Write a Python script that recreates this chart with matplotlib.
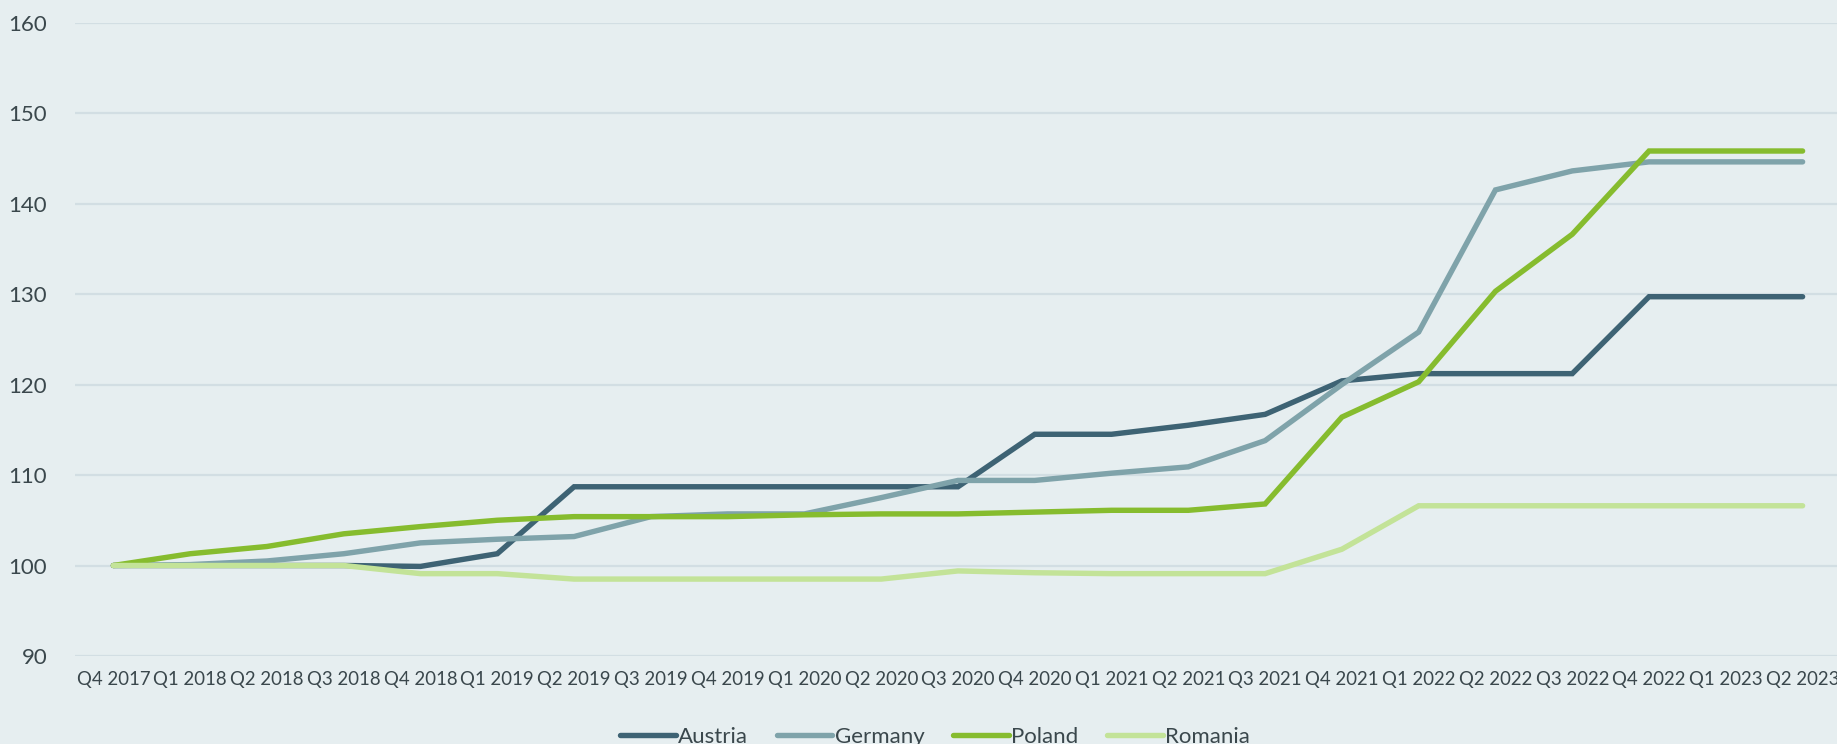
import matplotlib.pyplot as plt

quarters = ['Q4 2017', 'Q1 2018', 'Q2 2018', 'Q3 2018', 'Q4 2018', 'Q1 2019',
            'Q2 2019', 'Q3 2019', 'Q4 2019', 'Q1 2020', 'Q2 2020', 'Q3 2020',
            'Q4 2020', 'Q1 2021', 'Q2 2021', 'Q3 2021', 'Q4 2021', 'Q1 2022',
            'Q2 2022', 'Q3 2022', 'Q4 2022', 'Q1 2023', 'Q2 2023']

austria = [100, 100, 100, 100, 99.9, 101.3, 108.7, 108.7, 108.7, 108.7, 108.7, 108.7,
           114.5, 114.5, 115.5, 116.7, 120.4, 121.2, 121.2, 121.2, 129.7, 129.7, 129.7]
germany = [100, 100.1, 100.5, 101.3, 102.5, 102.9, 103.2, 105.4, 105.7, 105.7, 107.5, 109.4,
           109.4, 110.2, 110.9, 113.8, 120.0, 125.8, 141.5, 143.6, 144.6, 144.6, 144.6]
poland = [100, 101.3, 102.1, 103.5, 104.3, 105.0, 105.4, 105.4, 105.4, 105.6, 105.7, 105.7,
          105.9, 106.1, 106.1, 106.8, 116.4, 120.3, 130.3, 136.6, 145.8, 145.8, 145.8]
romania = [100, 100, 100, 100, 99.1, 99.1, 98.5, 98.5, 98.5, 98.5, 98.5, 99.4,
           99.2, 99.1, 99.1, 99.1, 101.8, 106.6, 106.6, 106.6, 106.6, 106.6, 106.6]

series = [('Austria', austria, '#3E6374'),
          ('Germany', germany, '#7FA3AA'),
          ('Poland', poland, '#86BC2E'),
          ('Romania', romania, '#C3E398')]

plt.rcParams['font.family'] = ['Lato', 'DejaVu Sans']
txt = '#3A474C'
bg = '#E6EEF0'

fig = plt.figure(figsize=(18.37, 7.44), dpi=100, facecolor=bg)
ax = fig.add_axes([75 / 1837, 1 - 656 / 744, 1766 / 1837, (656 - 22.5) / 744])
ax.set_facecolor(bg)

x = range(len(quarters))
for name, vals, col in series:
    ax.plot(x, vals, color=col, lw=3.9, label=name, solid_capstyle='round',
            solid_joinstyle='miter', zorder=3)

ax.set_xlim(-0.5, 22.5)
ax.set_ylim(90, 160)
ax.set_yticks(range(90, 161, 10))
ax.set_xticks(list(x))
ax.set_xticklabels(quarters)
ax.grid(axis='y', color='#D2DEE3', lw=1.6, zorder=0)
for s in ax.spines.values():
    s.set_visible(False)
ax.tick_params(axis='y', length=0, pad=20, labelsize=16, labelcolor=txt)
ax.tick_params(axis='x', length=0, pad=11, labelsize=13.4, labelcolor=txt)

ax.legend(loc='center', bbox_to_anchor=(935 / 1837, 7 / 744),
          bbox_transform=fig.transFigure, ncol=4, frameon=False,
          fontsize=16, labelcolor=txt, handlelength=2.5, handletextpad=0.1,
          columnspacing=1.3)

fig.savefig('out.png', dpi=100, facecolor=bg)
